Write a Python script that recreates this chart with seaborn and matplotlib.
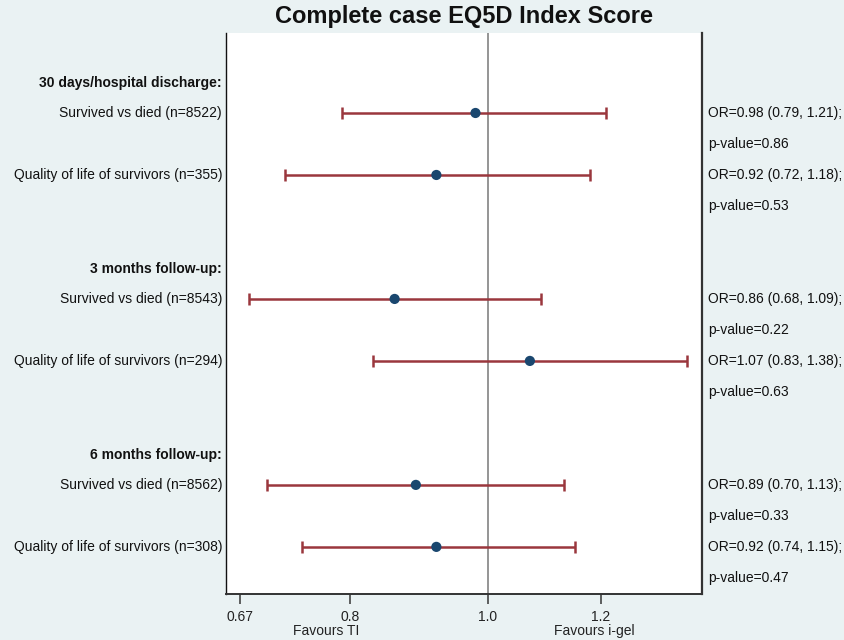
import numpy as np
import pandas as pd
import matplotlib
matplotlib.use("Agg")
import matplotlib.pyplot as plt
import matplotlib.transforms as mtransforms
import seaborn as sns

# ---- data ----
headers = ["30 days/hospital discharge:", "3 months follow-up:", "6 months follow-up:"]
comparisons = [
    "Survived vs died (n=8522)", "Quality of life of survivors (n=355)",
    "Survived vs died (n=8543)", "Quality of life of survivors (n=294)",
    "Survived vs died (n=8562)", "Quality of life of survivors (n=308)",
]
odds_ratio = [0.98, 0.92, 0.86, 1.07, 0.89, 0.92]
ci_low = [0.79, 0.72, 0.68, 0.83, 0.70, 0.74]
ci_high = [1.21, 1.18, 1.09, 1.38, 1.13, 1.15]
p_values = [0.86, 0.53, 0.22, 0.63, 0.33, 0.47]
tick_values = [0.67, 0.8, 1.0, 1.2]
tick_labels = ["0.67", "0.8", "1.0", "1.2"]
favour_labels = ["Favours TI", "Favours i-gel"]
title = "Complete case EQ5D Index Score"

# row layout: header, row, pval, row, pval, blank per section
header_pos = [0, 6, 12]
row_pos = [1, 3, 7, 9, 13, 15]

df = pd.DataFrame({"label": comparisons, "OR": odds_ratio, "lo": ci_low,
                   "hi": ci_high, "p": p_values, "pos": row_pos})

sns.set_style("white")
plt.rcParams["font.family"] = ["Liberation Sans", "DejaVu Sans"]

bg = "#EAF2F3"
line_col = "#9A373D"
dot_col = "#1A476F"

fig = plt.figure(figsize=(8.45, 6.4), dpi=100, facecolor=bg)
ax = fig.add_axes([0.2675, 0.0719, 0.8308 - 0.2675, 0.9484 - 0.0719])
ax.set_facecolor("white")

ax.set_xscale("log")
ax.set_xlim(0.655, 1.413)
ax.set_ylim(16.52, -1.58)

ax.axvline(1.0, color="#8C8C8C", lw=1.3, zorder=1)

ax.errorbar(df["OR"], df["pos"],
            xerr=[df["OR"] - df["lo"], df["hi"] - df["OR"]],
            fmt="none", ecolor=line_col, elinewidth=1.8, capsize=4.3,
            capthick=1.8, zorder=2)
sns.scatterplot(data=df, x="OR", y="pos", ax=ax, color=dot_col, s=54,
                edgecolor="none", zorder=3, legend=False)

ax.set_xlabel("")
ax.set_ylabel("")
ax.set_yticks([])
ax.xaxis.set_major_locator(matplotlib.ticker.FixedLocator(tick_values))
ax.xaxis.set_minor_locator(matplotlib.ticker.NullLocator())
ax.set_xticklabels(tick_labels, fontsize=10)
ax.tick_params(axis="x", which="major", direction="out", length=7, width=1.2,
               color="#444444", pad=4.5, labelcolor="#222222", bottom=True)

for side in ["left", "right", "bottom"]:
    ax.spines[side].set_visible(True)
ax.spines["top"].set_visible(False)
ax.spines["left"].set_color("#111111")
ax.spines["left"].set_linewidth(1.0)
ax.spines["right"].set_color("#333333")
ax.spines["right"].set_linewidth(1.6)
ax.spines["bottom"].set_color("#333333")
ax.spines["bottom"].set_linewidth(1.4)

ylab_trans = mtransforms.blended_transform_factory(ax.transAxes, ax.transData)
for h, y in zip(headers, header_pos):
    ax.text(-0.0084, y + 0.03, h, transform=ylab_trans, ha="right", va="center",
            fontsize=10, fontweight="bold", color="#111111")
for r in df.itertuples():
    ax.text(-0.0084, r.pos, r.label, transform=ylab_trans, ha="right",
            va="center", fontsize=10, color="#111111")
    ax.text(1.0126, r.pos, f"OR={r.OR:.2f} ({r.lo:.2f}, {r.hi:.2f});",
            transform=ylab_trans, ha="left", va="center", fontsize=10,
            color="#111111")
    ax.text(1.0126, r.pos + 1, f"p-value={r.p:.2f}",
            transform=ylab_trans, ha="left", va="center", fontsize=10,
            color="#111111")

fav_trans = mtransforms.blended_transform_factory(ax.transData, fig.transFigure)
for lab, xv in zip(favour_labels, [0.77, 1.187]):
    ax.text(xv, 1 - 631 / 640, lab, transform=fav_trans, ha="center",
            va="center", fontsize=10, color="#222222")

fig.text(0.5492, 1 - 16 / 640, title, ha="center", va="center",
         fontsize=17, fontweight="bold", color="#111111")

fig.savefig("out.png", dpi=100, facecolor=bg)
